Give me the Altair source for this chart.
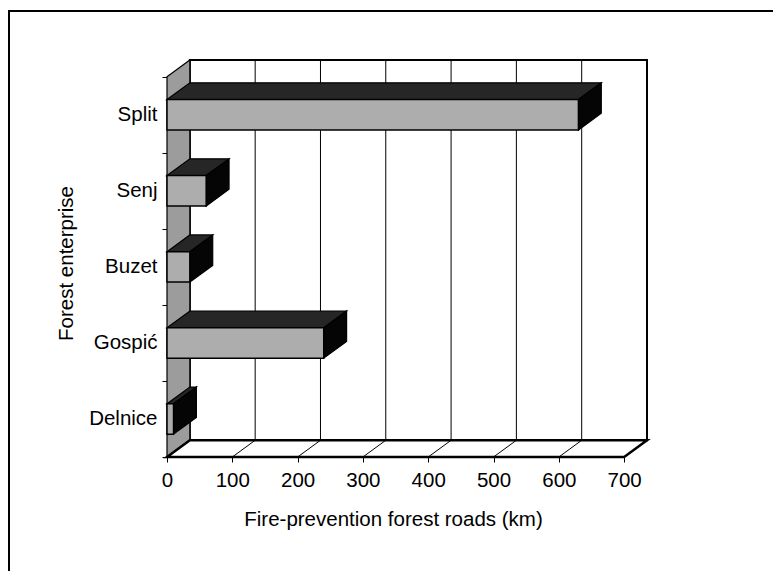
import json
import altair as alt
import pandas as pd

# ---------------- data ----------------
categories = ["Delnice", "Gospić", "Buzet", "Senj", "Split"]
roads_km = [10, 240, 35, 60, 630]
x_ticks = [0, 100, 200, 300, 400, 500, 600, 700]

# ---------------- 3-D box geometry (in data units) ----------------
X_MAX = 700
DEPTH_X = 35.0          # box depth along the value axis
DEPTH_Y = 0.22          # box depth along the category axis
SLOPE = DEPTH_Y / DEPTH_X
N = len(categories)
BAR_LO, BAR_HI = 0.3, 0.7

top_rows, side_rows, front_rows = [], [], []
for i, (cat, v) in enumerate(zip(categories, roads_km)):
    v = float(v)
    yb, yt = i + BAR_LO, i + BAR_HI
    for x in sorted({0.0, v, DEPTH_X, v + DEPTH_X}):
        top_rows.append(dict(cat=cat, x=x,
                             lo=yt + max(0.0, x - v) * SLOPE,
                             hi=yt + min(x, DEPTH_X) * SLOPE))
    for x in (v, v + DEPTH_X):
        side_rows.append(dict(cat=cat, x=x,
                              lo=yb + (x - v) * SLOPE,
                              hi=yt + (x - v) * SLOPE))
    front_rows.append(dict(cat=cat, x=0.0, x2=v, lo=yb, hi=yt))

top_df = pd.DataFrame(top_rows)
side_df = pd.DataFrame(side_rows)
front_df = pd.DataFrame(front_rows)

wall_df = pd.DataFrame([dict(x=x, lo=x * SLOPE, hi=N + x * SLOPE) for x in (0.0, DEPTH_X)])
floor_df = pd.DataFrame([dict(x=x, lo=max(0.0, x - X_MAX) * SLOPE, hi=min(x, DEPTH_X) * SLOPE)
                         for x in (0.0, DEPTH_X, float(X_MAX), X_MAX + DEPTH_X)])
back_df = pd.DataFrame([dict(x=DEPTH_X, x2=X_MAX + DEPTH_X, y=DEPTH_Y, y2=N + DEPTH_Y)])
grid_df = pd.DataFrame([dict(x=t + DEPTH_X, y=DEPTH_Y, y2=N + DEPTH_Y) for t in x_ticks[1:-1]])
diag_df = pd.DataFrame([dict(x=float(t), x2=t + DEPTH_X, y=0.0, y2=DEPTH_Y) for t in x_ticks[1:-1]])

# ---------------- scales & axes ----------------
FONT = "Liberation Sans"
FS = 20.5
xs = alt.Scale(domain=[0, X_MAX + DEPTH_X], nice=False, zero=False)
ys = alt.Scale(domain=[0, N + DEPTH_Y], nice=False, zero=False)

X_AX = alt.Axis(values=x_ticks, title="Fire-prevention forest roads (km)", domain=False, grid=False,
                tickSize=5, tickColor="black", labelFontSize=FS, labelColor="black", labelFont=FONT,
                labelPadding=8, labelFlush=False, labelOverlap=False, format="d",
                titleFont=FONT, titleFontSize=FS, titleFontWeight="normal", titleColor="black",
                titlePadding=19, titleX=226)

cat_js = json.dumps(categories, ensure_ascii=False)
Y_AX = alt.Axis(values=[k * 0.5 for k in range(2 * N + 1)],
                labelExpr=f"datum.value % 1 == 0 ? '' : {cat_js}[floor(datum.value)]",
                tickOpacity={"condition": {"test": "datum.value % 1 != 0", "value": 0}, "value": 1},
                domain=False, grid=False, tickSize=5, tickColor="black",
                labelFontSize=FS, labelColor="black", labelFont=FONT, labelPadding=5,
                labelFlush=False, labelOverlap=False,
                title="Forest enterprise", titleFont=FONT, titleFontSize=FS,
                titleFontWeight="normal", titleColor="black", titlePadding=12, titleY=203)


def X(f):
    return alt.X(f"{f}:Q", scale=xs, axis=X_AX)


def Y(f):
    return alt.Y(f"{f}:Q", scale=ys, axis=Y_AX)


# ---------------- layers ----------------
frame = alt.Chart(alt.Data(values=[{"a": 1}])).mark_rect(
    fillOpacity=0, stroke="black", strokeWidth=2
).encode(x=alt.value(-158), x2=alt.value(700), y=alt.value(-49), y2=alt.value(600))

back = alt.Chart(back_df).mark_rect(fill="white", stroke="black", strokeWidth=2).encode(
    x=X("x"), x2="x2", y=Y("y"), y2="y2")

grid = alt.Chart(grid_df).mark_rule(color="black", strokeWidth=1).encode(
    x=X("x"), y=Y("y"), y2="y2")

wall = alt.Chart(wall_df).mark_area(orient="vertical", fill="#9c9c9c", stroke="black",
                                    strokeWidth=1.2).encode(x=X("x"), y=Y("hi"), y2="lo")

floor = alt.Chart(floor_df).mark_area(orient="vertical", fill="white", stroke="black",
                                      strokeWidth=2.5).encode(x=X("x"), y=Y("hi"), y2="lo")

diag = alt.Chart(diag_df).mark_rule(color="black", strokeWidth=1).encode(
    x=X("x"), x2="x2", y=Y("y"), y2="y2")

top = alt.Chart(top_df).mark_area(orient="vertical", fill="#262626", stroke="black",
                                  strokeWidth=1.2).encode(x=X("x"), y=Y("hi"), y2="lo", detail="cat:N")

side = alt.Chart(side_df).mark_area(orient="vertical", fill="#050505", stroke="black",
                                    strokeWidth=1.2).encode(x=X("x"), y=Y("hi"), y2="lo", detail="cat:N")

front = alt.Chart(front_df).mark_rect(fill="#adadad", stroke="black", strokeWidth=1.5).encode(
    x=X("x"), x2="x2", y=Y("lo"), y2="hi")

chart = alt.layer(frame, back, grid, wall, floor, diag, top, side, front).properties(
    width=480, height=397,
    padding={"left": 159, "top": 52, "right": 126, "bottom": 114},
    autosize=alt.AutoSizeParams(type="none"),
    background="white",
).configure_view(stroke=None)

chart.save("out.html", embed_options={"renderer": "svg", "actions": False})
